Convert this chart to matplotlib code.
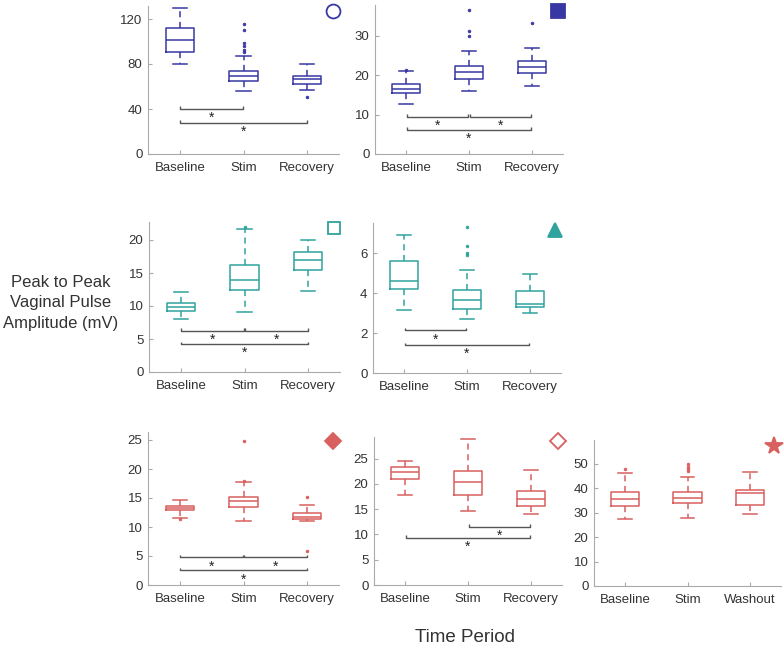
import matplotlib
matplotlib.use("Agg")
import matplotlib.pyplot as plt

plt.rcParams['font.family'] = ['Liberation Sans', 'DejaVu Sans']

BLUE = '#3838a4'
TEAL = '#2fa39d'
RED = '#d8605f'

# ---------------- data ----------------
p1_labels = ['Baseline', 'Stim', 'Recovery']
p1_whislo = [80, 56.3, 57.2]
p1_q1 = [90.4, 64.9, 62.5]
p1_med = [101.6, 69, 66.4]
p1_q3 = [112, 73.8, 69.6]
p1_whishi = [129.8, 87, 80]
p1_fliers = [[], [116, 110, 98.4, 96.3, 92.4, 90.4], [51]]
p1_brackets = [(1, 2, 40.3), (1, 3, 27.8)]

p2_labels = ['Baseline', 'Stim', 'Recovery']
p2_whislo = [12.7, 15.9, 17.1]
p2_q1 = [15.4, 19.0, 20.6]
p2_med = [16.5, 20.8, 22.1]
p2_q3 = [17.6, 22.4, 23.5]
p2_whishi = [21.0, 26.2, 26.9]
p2_fliers = [[21.3], [36.5, 31.1, 29.9], [33.1]]
p2_brackets = [(1, 2, 9.45), (2, 3, 9.45), (1, 3, 6.1)]

p3_labels = ['Baseline', 'Stim', 'Recovery']
p3_whislo = [8.1, 9.1, 12.2]
p3_q1 = [9.3, 12.5, 15.5]
p3_med = [9.8, 13.9, 16.9]
p3_q3 = [10.4, 16.2, 18.2]
p3_whishi = [12.07, 21.6, 20.05]
p3_fliers = [[], [22.0], []]
p3_brackets = [(1, 2, 6.27), (2, 3, 6.27), (1, 3, 4.24)]

p4_labels = ['Baseline', 'Stim', 'Recovery']
p4_whislo = [3.17, 2.72, 3.0]
p4_q1 = [4.18, 3.2, 3.32]
p4_med = [4.58, 3.63, 3.47]
p4_q3 = [5.6, 4.17, 4.12]
p4_whishi = [6.9, 5.17, 4.93]
p4_fliers = [[], [7.3, 6.33, 6.02, 5.88], []]
p4_brackets = [(1, 2, 2.13), (1, 3, 1.4)]

p5_labels = ['Baseline', 'Stim', 'Recovery']
p5_whislo = [11.6, 11.1, 11.1]
p5_q1 = [12.9, 13.4, 11.4]
p5_med = [13.3, 14.4, 11.8]
p5_q3 = [13.6, 15.2, 12.35]
p5_whishi = [14.6, 17.7, 13.85]
p5_fliers = [[11.4], [24.8, 18.0], [15.2, 5.9]]
p5_brackets = [(1, 2, 4.77), (2, 3, 4.77), (1, 3, 2.53)]

p6_labels = ['Baseline', 'Stim', 'Recovery']
p6_whislo = [17.8, 14.6, 14.0]
p6_q1 = [20.9, 17.8, 15.6]
p6_med = [22.3, 20.3, 16.9]
p6_q3 = [23.4, 22.6, 18.6]
p6_whishi = [24.6, 28.8, 22.7]
p6_fliers = [[], [], []]
p6_brackets = [(2, 3, 11.5), (1, 3, 9.35)]

p7_labels = ['Baseline', 'Stim', 'Washout']
p7_whislo = [27.3, 28.0, 29.5]
p7_q1 = [32.7, 34.1, 33.1]
p7_med = [35.8, 36.2, 38.0]
p7_q3 = [38.4, 38.4, 39.5]
p7_whishi = [46.4, 44.8, 46.8]
p7_fliers = [[47.8], [49.9, 48.9, 47.9, 47.3], []]
p7_brackets = []

panels = [
    dict(labels=p1_labels, lo=p1_whislo, q1=p1_q1, med=p1_med, q3=p1_q3, hi=p1_whishi,
         fl=p1_fliers, br=p1_brackets, color=BLUE, yticks=[0, 40, 80, 120], ymax=132,
         px=(148, 339, 154), icon=('o', 'none', 10, 0.969, 0.965)),
    dict(labels=p2_labels, lo=p2_whislo, q1=p2_q1, med=p2_med, q3=p2_q3, hi=p2_whishi,
         fl=p2_fliers, br=p2_brackets, color=BLUE, yticks=[0, 10, 20, 30], ymax=37.7,
         px=(375, 563, 154), icon=('s', 'fill', 9.5, 0.971, 0.96)),
    dict(labels=p3_labels, lo=p3_whislo, q1=p3_q1, med=p3_med, q3=p3_q3, hi=p3_whishi,
         fl=p3_fliers, br=p3_brackets, color=TEAL, yticks=[0, 5, 10, 15, 20], ymax=22.7,
         px=(149, 340, 372), icon=('s', 'none', 9, 0.970, 0.958)),
    dict(labels=p4_labels, lo=p4_whislo, q1=p4_q1, med=p4_med, q3=p4_q3, hi=p4_whishi,
         fl=p4_fliers, br=p4_brackets, color=TEAL, yticks=[0, 2, 4, 6], ymax=7.5,
         px=(373, 561, 373), icon=('^', 'fill', 10, 0.968, 0.953)),
    dict(labels=p5_labels, lo=p5_whislo, q1=p5_q1, med=p5_med, q3=p5_q3, hi=p5_whishi,
         fl=p5_fliers, br=p5_brackets, color=RED, yticks=[0, 5, 10, 15, 20, 25], ymax=26.4,
         px=(148, 339, 585), icon=('D', 'fill', 8, 0.969, 0.94)),
    dict(labels=p6_labels, lo=p6_whislo, q1=p6_q1, med=p6_med, q3=p6_q3, hi=p6_whishi,
         fl=p6_fliers, br=p6_brackets, color=RED, yticks=[0, 5, 10, 15, 20, 25], ymax=29.2,
         px=(374, 562, 585), icon=('D', 'none', 8, 0.979, 0.973)),
    dict(labels=p7_labels, lo=p7_whislo, q1=p7_q1, med=p7_med, q3=p7_q3, hi=p7_whishi,
         fl=p7_fliers, br=p7_brackets, color=RED, yticks=[0, 10, 20, 30, 40, 50], ymax=59.8,
         px=(594, 781, 586), icon=('*', 'fill', 13, 0.963, 0.959)),
]
# pixels per data unit for each panel (layout)
ppu = [1.125, 3.95, 6.6, 20.0, 5.8, 5.06, 2.44]

W, H = 784, 650
fig = plt.figure(figsize=(W / 100, H / 100), dpi=100)

for p, scale in zip(panels, ppu):
    x0, x1, yb = p['px']
    top = yb - p['ymax'] * scale
    ax = fig.add_axes([x0 / W, 1 - yb / H, (x1 - x0) / W, (yb - top) / H])
    c = p['color']
    stats = []
    for i in range(3):
        stats.append(dict(med=p['med'][i], q1=p['q1'][i], q3=p['q3'][i],
                          whislo=p['lo'][i], whishi=p['hi'][i], fliers=p['fl'][i]))
    ax.bxp(stats, positions=[1, 2, 3], widths=0.45, capwidths=0.22,
           boxprops=dict(color=c, linewidth=1.1),
           medianprops=dict(color=c, linewidth=1.1),
           whiskerprops=dict(color=c, linewidth=1.1, linestyle=(0, (4, 3))),
           capprops=dict(color=c, linewidth=1.1),
           flierprops=dict(marker='o', markeredgecolor=c, markerfacecolor=c,
                           markersize=2, markeredgewidth=0.5))
    # significance brackets
    for (a, b, y) in p['br']:
        h = 2.5 / scale
        ax.plot([a + 0.01, a + 0.01, b - 0.01, b - 0.01], [y + h, y, y, y + h],
                color='#555555', linewidth=1.0, solid_capstyle='butt')
        ax.annotate('*', xy=((a + b) / 2, y), xytext=(0, -6.5), textcoords='offset points',
                    ha='center', va='center', fontsize=10, color='#222222')
    ax.set_xlim(0.5, 3.5)
    ax.set_ylim(0, p['ymax'])
    ax.set_xticks([1, 2, 3])
    ax.set_xticklabels(p['labels'])
    ax.set_yticks(p['yticks'])
    for s in ['top', 'right']:
        ax.spines[s].set_visible(False)
    for s in ['left', 'bottom']:
        ax.spines[s].set_color('#aaaaaa')
        ax.spines[s].set_linewidth(0.8)
    ax.tick_params(direction='in', length=3, color='#aaaaaa', labelsize=9.5,
                   labelcolor='#333333')
    ax.tick_params(axis='x', pad=6)
    ax.tick_params(axis='y', pad=4)
    ax.set_facecolor('none')
    m, fill, ms, fx, fy = p['icon']
    ax.plot([fx], [fy], marker=m, markersize=ms, transform=ax.transAxes, clip_on=False,
            markerfacecolor=(c if fill == 'fill' else 'white'), markeredgecolor=c,
            markeredgewidth=1.3, linestyle='none')

fig.text(61 / W, 1 - 303 / H, 'Peak to Peak\nVaginal Pulse\nAmplitude (mV)',
         ha='center', va='center', fontsize=12, color='#333333', linespacing=1.45)
fig.text(465 / W, 1 - 637 / H, 'Time Period', ha='center', va='center',
         fontsize=13.5, color='#333333')

fig.savefig('out.png', dpi=100)
